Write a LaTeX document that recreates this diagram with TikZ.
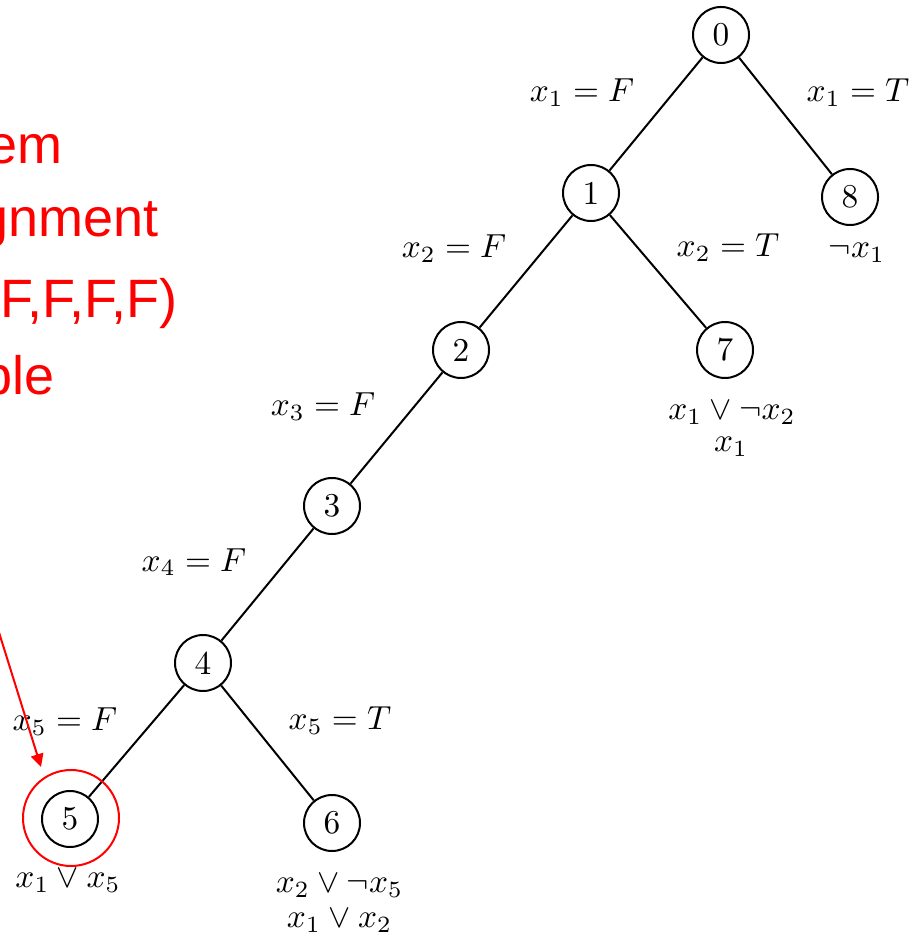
\documentclass[tikz,border=0pt]{standalone}
\usepackage{fontspec}
\newfontfamily\notefont{Liberation Sans}
\usetikzlibrary{arrows.meta}
\definecolor{notered}{RGB}{255,0,0}
\begin{document}
\begin{tikzpicture}[x=0.3pt,y=-0.3pt,
  state/.style={circle,draw,line width=0.6pt,minimum size=16.8pt,inner sep=0pt,font=\normalsize},
  branch/.style={line width=0.6pt},
  lab/.style={anchor=base,inner sep=0pt,font=\normalsize},
  note/.style={anchor=base east,inner sep=0pt,text=notered,font=\notefont\fontsize{16.2}{19}\selectfont},
  ring/.style={circle,draw=notered,line width=0.6pt,minimum size=28.8pt,inner sep=0pt},
  pointer/.style={draw=notered,line width=0.6pt,-{Triangle[length=3.9pt,width=3.8pt]}}]
\useasboundingbox (0,0) rectangle (912,935);
\clip (0,0) rectangle (912,935);

% search tree
\node[state] (n0) at (721,35) {0};
\node[state] (n1) at (591,193) {1};
\node[state] (n8) at (850,197) {8};
\node[state] (n2) at (461,350) {2};
\node[state] (n7) at (725,350) {7};
\node[state] (n3) at (332,506) {3};
\node[state] (n4) at (203,663) {4};
\node[state] (n5) at (70,819) {5};
\node[state] (n6) at (332,823) {6};

\draw[branch] (n0) -- (n1);
\draw[branch] (n0) -- (n8);
\draw[branch] (n1) -- (n2);
\draw[branch] (n1) -- (n7);
\draw[branch] (n2) -- (n3);
\draw[branch] (n3) -- (n4);
\draw[branch] (n4) -- (n5);
\draw[branch] (n4) -- (n6);

% branch labels
\node[lab] (l01) at (582,102) {$x_1 = F$};
\node[lab] (l08) at (858,102) {$x_1 = T$};
\node[lab] (l12) at (454,258) {$x_2 = F$};
\node[lab] (l17) at (728,257) {$x_2 = T$};
\node[lab] (l23) at (323,416) {$x_3 = F$};
\node[lab] (l34) at (194,571) {$x_4 = F$};
\node[lab] (l45) at (65,730) {$x_5 = F$};
\node[lab] (l46) at (340,729) {$x_5 = T$};

% learned clauses under the leaves
\node[lab] (c8) at (857,258) {$\neg x_1$};
\node[lab] (c7a) at (732,420) {$x_1 \vee \neg x_2$};
\node[lab] (c7b) at (731,452) {$x_1$};
\node[lab] (c5) at (68,887) {$x_1 \vee x_5$};
\node[lab] (c6a) at (339.5,892) {$x_2 \vee \neg x_5$};
\node[lab] (c6b) at (339.5,927) {$x_1 \vee x_2$};

% annotation
\node[note] (t1) at (63,164) {em};
\node[note] (t2) at (159,237) {gnment};
\node[note] (t3) at (178,318) {F,F,F,F)};
\node[note] (t4) at (55,395) {ble};

\node[ring] (ring5) at (71,818) {};
\coordinate (tailpt) at (-3,626);
\coordinate (tippt) at (41,767);
\draw[pointer] (tailpt) -- (tippt);
\end{tikzpicture}
\end{document}
